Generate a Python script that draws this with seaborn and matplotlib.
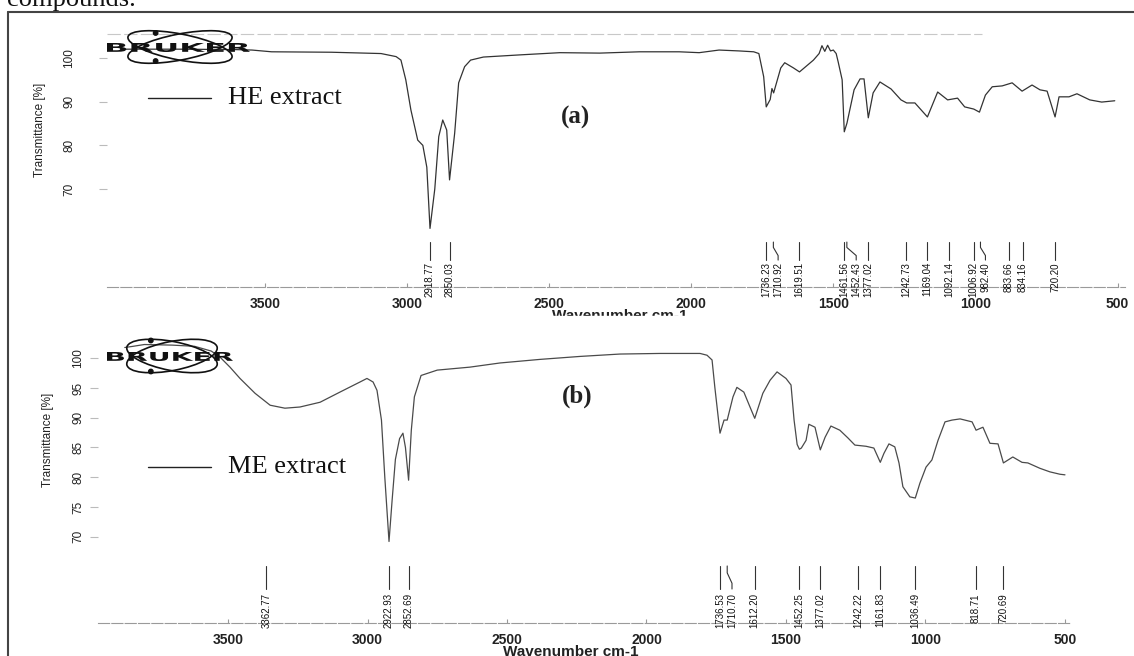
import numpy as np
import pandas as pd
import seaborn as sns
import matplotlib.pyplot as plt
from matplotlib.patches import Ellipse, Rectangle, PathPatch, Circle
from matplotlib.lines import Line2D
from matplotlib.textpath import TextPath
from matplotlib.font_manager import FontProperties
from matplotlib.transforms import Affine2D, IdentityTransform, blended_transform_factory

# (a) HE extract: wavenumber (cm-1) and transmittance (%)
he_wn = [4000, 3800, 3600, 3545, 3476, 3266, 3091, 3038, 3021, 3004,
         2986, 2962, 2944, 2930, 2918.77, 2902, 2888, 2874, 2860, 2850,
         2832, 2818, 2797, 2776, 2731, 2601, 2462, 2322, 2182, 2042,
         1972, 1902, 1832, 1780, 1762, 1745, 1736, 1722, 1716, 1710,
         1685, 1671, 1640, 1619, 1570, 1550, 1540, 1530, 1520, 1510,
         1500, 1490, 1483, 1469, 1461.5, 1452, 1427, 1406, 1392, 1377,
         1360, 1336, 1297, 1262, 1242, 1213, 1169, 1133, 1098, 1063,
         1038, 1006, 986, 965, 941, 906, 871, 836, 801, 773,
         748, 720, 706, 671, 643, 598, 556, 510]
he_T = [102.0, 102.0, 101.9, 101.8, 101.4, 101.3, 101.0, 100.3, 99.5, 95.0,
        88.1, 81.2, 80.0, 75.0, 61.0, 70.0, 82.0, 85.8, 83.5, 72.1,
        82.8, 94.3, 98.0, 99.5, 100.2, 100.7, 101.2, 101.1, 101.4, 101.4,
        101.2, 101.8, 101.6, 101.4, 101.0, 95.7, 88.8, 90.5, 93.0, 92.0,
        97.7, 98.9, 97.7, 96.8, 99.5, 101.0, 102.8, 101.5, 102.9, 101.6,
        101.8, 101.0, 99.1, 95.0, 83.1, 85.1, 92.7, 95.2, 95.2, 86.3,
        92.0, 94.5, 92.9, 90.4, 89.7, 89.7, 86.5, 92.2, 90.4, 90.8,
        88.8, 88.3, 87.6, 91.5, 93.4, 93.6, 94.3, 92.4, 93.8, 92.7,
        92.4, 86.5, 91.1, 91.1, 91.8, 90.4, 89.9, 90.2]

# (b) ME extract
me_wn = [3870, 3840, 3800, 3700, 3620, 3560, 3529, 3493, 3457, 3403,
         3349, 3296, 3242, 3170, 3099, 3027, 3002, 2980, 2966, 2950,
         2938, 2922.9, 2912, 2900, 2885, 2873, 2864, 2852.7, 2843, 2832,
         2808, 2750, 2633, 2525, 2382, 2238, 2095, 1952, 1808, 1783,
         1765, 1755, 1736.5, 1722, 1710.7, 1690, 1676, 1651, 1629, 1612,
         1583, 1557, 1532, 1500, 1482, 1471, 1460, 1452, 1445, 1428,
         1418, 1396, 1377, 1360, 1339, 1307, 1278, 1253, 1213, 1185,
         1162, 1149, 1131, 1110, 1095, 1081, 1056, 1036.5, 1020, 998,
         977, 955, 930, 905, 876, 833, 818.7, 794, 769, 740,
         720.7, 687, 654, 633, 590, 554, 518, 500]
me_T = [101.8, 102.0, 102.3, 102.2, 102.0, 101.2, 100.2, 98.5, 96.6, 94.1,
        92.1, 91.6, 91.8, 92.6, 94.3, 96.0, 96.6, 96.0, 94.6, 89.6,
        80.0, 69.2, 76.0, 83.0, 86.5, 87.4, 85.0, 79.5, 87.9, 93.5,
        97.1, 98.0, 98.5, 99.2, 99.8, 100.3, 100.7, 100.8, 100.8, 100.5,
        99.7, 95.1, 87.4, 89.6, 89.6, 93.5, 95.1, 94.3, 91.8, 89.9,
        94.1, 96.3, 97.7, 96.6, 95.5, 89.6, 85.5, 84.7, 84.9, 86.2,
        88.9, 88.4, 84.6, 86.7, 88.6, 87.9, 86.6, 85.4, 85.2, 84.9,
        82.5, 84.0, 85.6, 85.1, 82.4, 78.4, 76.7, 76.5, 79.0, 81.7,
        82.9, 86.2, 89.3, 89.6, 89.8, 89.3, 87.9, 88.4, 85.7, 85.6,
        82.4, 83.4, 82.5, 82.4, 81.5, 80.9, 80.5, 80.4]

he_peaks = [2918.77, 2850.03, 1736.23, 1710.92, 1619.51, 1461.56, 1452.43, 1377.02,
            1242.73, 1169.04, 1092.14, 1006.92, 982.40, 883.66, 834.16, 720.20]
me_peaks = [3362.77, 2922.93, 2852.69, 1736.53, 1710.70, 1612.20, 1452.25, 1377.02,
            1242.22, 1161.83, 1036.49, 818.71, 720.69]

x_ticks = [3500, 3000, 2500, 2000, 1500, 1000, 500]
he_yticks = [70, 80, 90, 100]
me_yticks = [70, 75, 80, 85, 90, 95, 100]

sns.set_style('white')
plt.rcParams['font.family'] = ['Liberation Sans', 'DejaVu Sans']
narrow = ['Liberation Sans Narrow', 'Liberation Sans', 'DejaVu Sans']
serif = ['Liberation Serif', 'DejaVu Serif']

W, H = 1134, 656
fig = plt.figure(figsize=(W / 100, H / 100), dpi=100)


def fx(x):
    return x / W


def fy(y):
    return 1 - y / H


def style_axes(ax, yticks, ypad, label_xy):
    for s in ['top', 'right', 'left']:
        ax.spines[s].set_visible(False)
    ax.spines['bottom'].set_color('#9a9a9a')
    ax.spines['bottom'].set_linewidth(0.8)
    ax.spines['bottom'].set_linestyle((0, (10, 2)))
    ax.set_xticks(x_ticks)
    ax.set_xticklabels([str(t) for t in x_ticks], fontweight='bold', fontsize=10, color='#222')
    ax.tick_params(axis='x', direction='in', length=3, color='#999', pad=7, bottom=True)
    ax.set_yticks(yticks)
    ax.set_yticklabels([str(t) for t in yticks], rotation=90, va='center',
                       fontsize=8.5, family=narrow, color='#222')
    ax.tick_params(axis='y', length=6, color='#bbb', pad=ypad, left=True)
    ax.set_xlabel('Wavenumber cm-1', fontweight='bold', fontsize=11, color='#222')
    ax.set_ylabel('Transmittance [%]', family=narrow, fontsize=8.5, color='#222')
    ax.yaxis.set_label_coords(*label_xy)
    ax.set_facecolor('none')


def peak_marks(ax, peaks, y_top, y_bot, y_text, gap):
    trans = blended_transform_factory(ax.transData, ax.transAxes)
    prev = None
    for p in sorted(peaks, reverse=True):
        q = p if prev is None else min(p, prev - gap)
        prev = q
        if abs(p - q) < 1:
            xs, ys = [p, p], [y_top, y_bot]
        else:
            d = y_top - y_bot
            xs, ys = [p, p, q, q], [y_top, y_top - 0.3 * d, y_top - 0.75 * d, y_bot]
        ax.plot(xs, ys, transform=trans, color='#333', lw=0.8, clip_on=False)
        ax.text(q, y_text, f'{p:.2f}', transform=trans, rotation=90, ha='center',
                va='top', fontsize=7, family=narrow, color='#111')


def logo(x0, x1, ytop, ybot, cx, cy, ew, eh):
    tp = TextPath((0, 0), 'BRUKER', size=10, prop=FontProperties(family='DejaVu Sans', weight='bold'))
    ext = tp.get_extents()
    tr = (Affine2D().translate(-ext.x0, -ext.y0)
          .scale((x1 - x0) / ext.width, (ybot - ytop) / ext.height)
          .translate(x0, H - ybot))
    fig.add_artist(PathPatch(tp, transform=tr + IdentityTransform(), color='#111', lw=0, zorder=6))
    for ang in (11, -11):
        fig.add_artist(Ellipse((cx, H - cy), ew, eh, angle=ang, fill=False, ec='#111', lw=1.2,
                               transform=IdentityTransform(), zorder=6))
    for dy in (-eh / 2 - 1, eh / 2 + 1):
        fig.add_artist(Circle((cx - ew * 0.23, H - cy + dy), 2.2, color='#111',
                              transform=IdentityTransform(), zorder=6))


# ---- panel (a)
ax1 = fig.add_axes([fx(107), fy(287), fx(1125 - 107), (287 - 33) / H])
df_he = pd.DataFrame({'wn': he_wn, 'T': he_T})
sns.lineplot(data=df_he, x='wn', y='T', ax=ax1, color='#333', lw=0.9, estimator=None, sort=False)
ax1.set_xlim(4055, 474)
ax1.set_ylim(47.6, 105.7)
style_axes(ax1, he_yticks, 17, (-0.06, 0.62))
ax1.xaxis.set_label_coords(0.504, -0.085)
ax1.axhline(105.5, xmax=0.86, color='#c8c8c8', lw=0.8, ls=(0, (12, 3)), clip_on=False)
peak_marks(ax1, he_peaks, 0.177, 0.106, 0.098, 42)

# the lower picture is pasted over the first axis title
fig.add_artist(Rectangle((fx(12), 0), fx(1122), fy(316),
                         transform=fig.transFigure, color='white', zorder=2))

# ---- panel (b)
ax2 = fig.add_axes([fx(98), fy(623), fx(1070 - 98), (623 - 335) / H], zorder=3)
df_me = pd.DataFrame({'wn': me_wn, 'T': me_T})
sns.lineplot(data=df_me, x='wn', y='T', ax=ax2, color='#4a4a4a', lw=0.9, estimator=None, sort=False)
ax2.set_xlim(3966, 482)
ax2.set_ylim(55.5, 103.9)
style_axes(ax2, me_yticks, 4, (-0.045, 0.635))
ax2.xaxis.set_label_coords(0.486, -0.075)
peak_marks(ax2, me_peaks, 0.198, 0.118, 0.104, 43)

# logos
logo(107, 250, 43, 52, 180, 47, 106, 26)
logo(107, 233, 352, 361, 172, 356, 92, 29)

# legend-like labels and panel letters
for y, name in [(98, 'HE extract'), (467, 'ME extract')]:
    fig.add_artist(Line2D([fx(148), fx(211)], [fy(y), fy(y)], color='#222', lw=1.0, zorder=6))
    fig.text(fx(228), fy(y), name, family=serif, fontsize=19, va='center', ha='left',
             color='#111', zorder=6)
fig.text(fx(575), fy(117), '(a)', family=serif, fontsize=18, fontweight='bold',
         ha='center', va='center', color='#222', zorder=6)
fig.text(fx(577), fy(396), '(b)', family=serif, fontsize=18, fontweight='bold',
         ha='center', va='center', color='#222', zorder=6)

# cut-off caption text above the frame and the frame itself
fig.text(fx(7), fy(6), 'compounds.', family=serif, fontsize=19, va='baseline', ha='left', color='#111')
fig.add_artist(Line2D([fx(8), fx(8)], [fy(12), 0], color='#444', lw=1.5, zorder=7))
fig.add_artist(Line2D([fx(8), 1], [fy(12), fy(12)], color='#444', lw=1.5, zorder=7))

fig.savefig('out.png', dpi=100)
